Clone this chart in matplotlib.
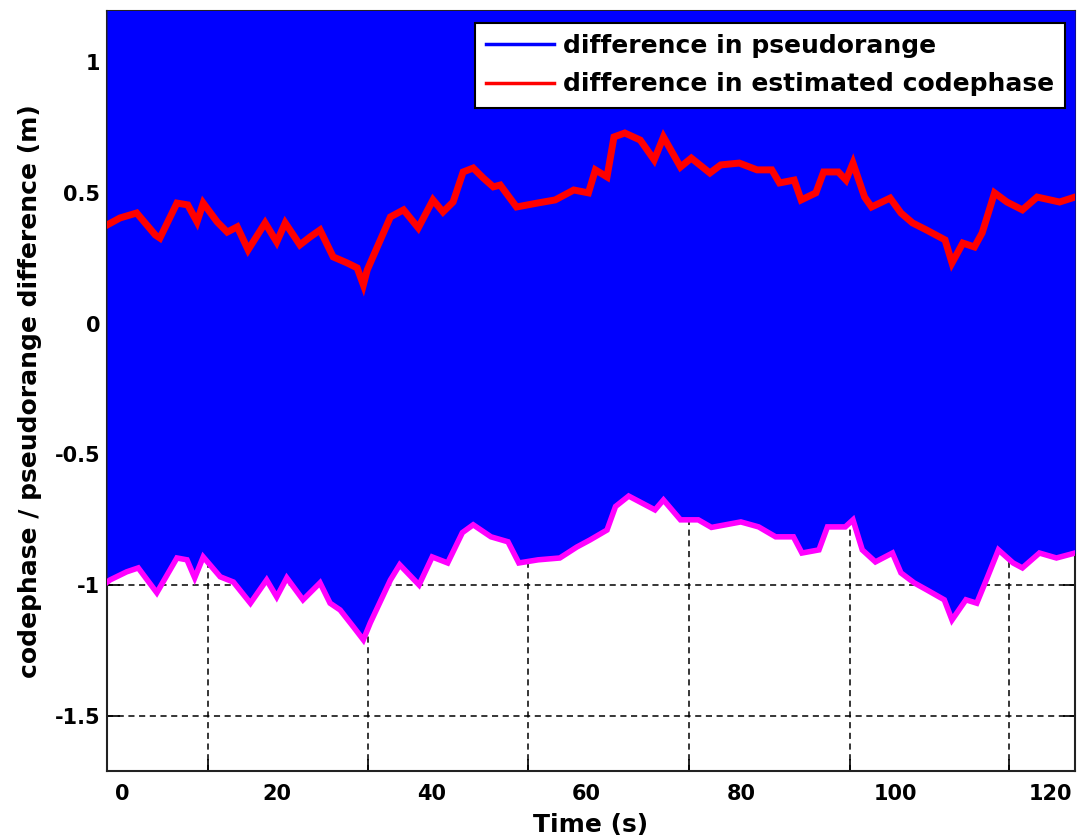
import matplotlib
matplotlib.use("Agg")
import matplotlib.pyplot as plt
from matplotlib.lines import Line2D

# ---- data ----
codephase_t = [-1.94, -0.26, 1.9, 4.3, 4.9, 7.1, 8.5, 9.7, 10.5, 12.3, 13.6, 14.9, 16.3,
               18.5, 20.0, 21.1, 23.0, 24.3, 25.6, 27.3, 29.1, 30.4, 31.2, 31.7, 33.0,
               34.7, 36.4, 38.3, 40.2, 41.5, 42.8, 44.1, 45.4, 46.7, 48.0, 48.9, 51.0,
               53.7, 56.0, 58.4, 60.3, 61.2, 62.7, 63.6, 65.0, 67.0, 68.8, 70.0, 72.2,
               73.6, 76.0, 77.4, 79.8, 82.1, 84.0, 85.0, 86.9, 87.8, 89.7, 90.7, 92.6,
               93.6, 94.5, 96.0, 96.9, 99.3, 100.7, 102.2, 104.0, 106.4, 107.3, 108.7,
               110.2, 111.2, 112.8, 114.4, 116.4, 118.3, 121.2, 123.2]
codephase_diff = [0.377, 0.404, 0.423, 0.339, 0.327, 0.461, 0.454, 0.389, 0.461, 0.389,
                  0.350, 0.370, 0.282, 0.385, 0.312, 0.385, 0.301, 0.331, 0.358, 0.255,
                  0.232, 0.213, 0.148, 0.205, 0.293, 0.408, 0.435, 0.366, 0.473, 0.427,
                  0.465, 0.580, 0.595, 0.557, 0.523, 0.530, 0.446, 0.461, 0.473, 0.511,
                  0.500, 0.588, 0.561, 0.714, 0.729, 0.702, 0.626, 0.714, 0.599, 0.633,
                  0.576, 0.607, 0.614, 0.588, 0.588, 0.538, 0.549, 0.473, 0.500, 0.580,
                  0.580, 0.549, 0.614, 0.484, 0.446, 0.480, 0.423, 0.385, 0.358, 0.320,
                  0.232, 0.308, 0.293, 0.347, 0.500, 0.465, 0.435, 0.484, 0.465, 0.484]

pseudorange_t = [-1.94, -1.55, 0.6, 2.1, 4.5, 7.1, 8.4, 9.4, 10.5, 12.7, 14.4, 16.6, 18.7,
                 20.0, 21.3, 23.4, 25.6, 26.9, 28.2, 29.9, 31.2, 32.1, 34.7, 35.9, 38.4,
                 40.1, 42.1, 44.0, 45.4, 47.7, 49.9, 51.3, 53.8, 56.6, 58.8, 60.5, 62.7,
                 63.8, 65.5, 68.9, 70.0, 72.2, 74.5, 76.2, 80.0, 82.3, 84.5, 86.8, 87.9,
                 90.1, 91.2, 93.5, 94.5, 95.7, 97.4, 99.6, 100.7, 102.4, 104.1, 106.3,
                 107.3, 109.1, 110.5, 111.9, 113.3, 115.2, 116.4, 118.6, 120.8, 123.2]
# lower edge of the (very noisy) pseudorange difference
pseudorange_low = [-0.99, -0.981, -0.95, -0.935, -1.03, -0.897, -0.904, -0.973, -0.893,
                   -0.969, -0.989, -1.07, -0.981, -1.046, -0.973, -1.057, -0.992, -1.07,
                   -1.096, -1.16, -1.21, -1.145, -0.981, -0.923, -1.0, -0.893, -0.916,
                   -0.80, -0.77, -0.816, -0.835, -0.916, -0.904, -0.897, -0.855, -0.828,
                   -0.79, -0.70, -0.66, -0.713, -0.675, -0.751, -0.751, -0.78, -0.759,
                   -0.778, -0.816, -0.816, -0.878, -0.866, -0.778, -0.778, -0.751, -0.866,
                   -0.912, -0.878, -0.954, -0.992, -1.02, -1.057, -1.134, -1.057, -1.07,
                   -0.969, -0.866, -0.916, -0.935, -0.878, -0.897, -0.878]
pseudorange_high = 1.5  # noise reaches beyond the top of the axes

x_ticks = [0, 20, 40, 60, 80, 100, 120]
y_ticks = [-1.5, -1, -0.5, 0, 0.5, 1]
series_labels = ["difference in pseudorange", "difference in estimated codephase"]

# ---- figure ----
plt.rcParams['font.family'] = ['DejaVu Sans']
plt.rcParams['font.weight'] = 'bold'

fig = plt.figure(figsize=(10.77, 8.40), dpi=100)
ax = fig.add_axes([107 / 1077, 69 / 840, (1075 - 107) / 1077, (771 - 10.7) / 840])

ax.set_xlim(-1.94, 123.2)
ax.set_ylim(-1.712, 1.197)

ax.fill_between(pseudorange_t, pseudorange_low, pseudorange_high,
                color="#0000FF", linewidth=0, zorder=3)
ax.plot(pseudorange_t, pseudorange_low, color="#FF00FF", linewidth=4.0, zorder=4,
        solid_joinstyle="miter")
ax.plot(codephase_t, codephase_diff, color="#FF0000", linewidth=5.0, zorder=5,
        solid_joinstyle="miter")

# tick labels (major, no marks) and grid marks (minor) are offset in the original
grid_x = [11.1, 31.8, 52.5, 73.3, 94.1, 114.7]
ax.set_xticks(x_ticks)
ax.set_xticklabels([str(v) for v in x_ticks])
ax.set_xticks(grid_x, minor=True)
ax.set_yticks(y_ticks)
ax.set_yticklabels(["-1.5", "-1", "-0.5", "0", "0.5", "1"])

ax.tick_params(axis="x", which="major", length=0, pad=9, labelsize=15)
ax.tick_params(axis="x", which="minor", direction="in", length=9, width=1.2,
               top=True, bottom=True, color="black")
ax.tick_params(axis="y", which="major", direction="in", length=9, width=1.2,
               left=True, right=True, pad=5, labelsize=15)
for lab in ax.get_xticklabels() + ax.get_yticklabels():
    lab.set_fontweight("bold")

ax.grid(False)
for gx in grid_x:
    ax.axvline(gx, color="black", linewidth=1.1, linestyle=(0, (4, 3)), zorder=1)
for gy in y_ticks:
    ax.axhline(gy, color="black", linewidth=1.1, linestyle=(0, (4, 3)), zorder=1)

for s in ax.spines.values():
    s.set_linewidth(1.5)
    s.set_color("#222222")
    s.set_zorder(2)

ax.set_xlabel("Time (s)", fontsize=18, fontweight="bold", labelpad=7)
ax.set_ylabel("codephase / pseudorange difference (m)", fontsize=18,
              fontweight="bold", labelpad=9)

handles = [Line2D([], [], color="#0000FF", linewidth=2.5),
           Line2D([], [], color="#FF0000", linewidth=2.5)]
leg = ax.legend(handles, series_labels, loc="upper right",
                bbox_to_anchor=(1 - 10 / 968, 1 - 12 / 760),
                prop={"size": 18, "weight": "bold"}, frameon=True, fancybox=False,
                framealpha=1, edgecolor="black", handlelength=2.7, handletextpad=0.35,
                borderpad=0.45, labelspacing=0.58, borderaxespad=0)
leg.get_frame().set_linewidth(1.5)
leg.set_zorder(10)

fig.savefig("out.png", dpi=100)
